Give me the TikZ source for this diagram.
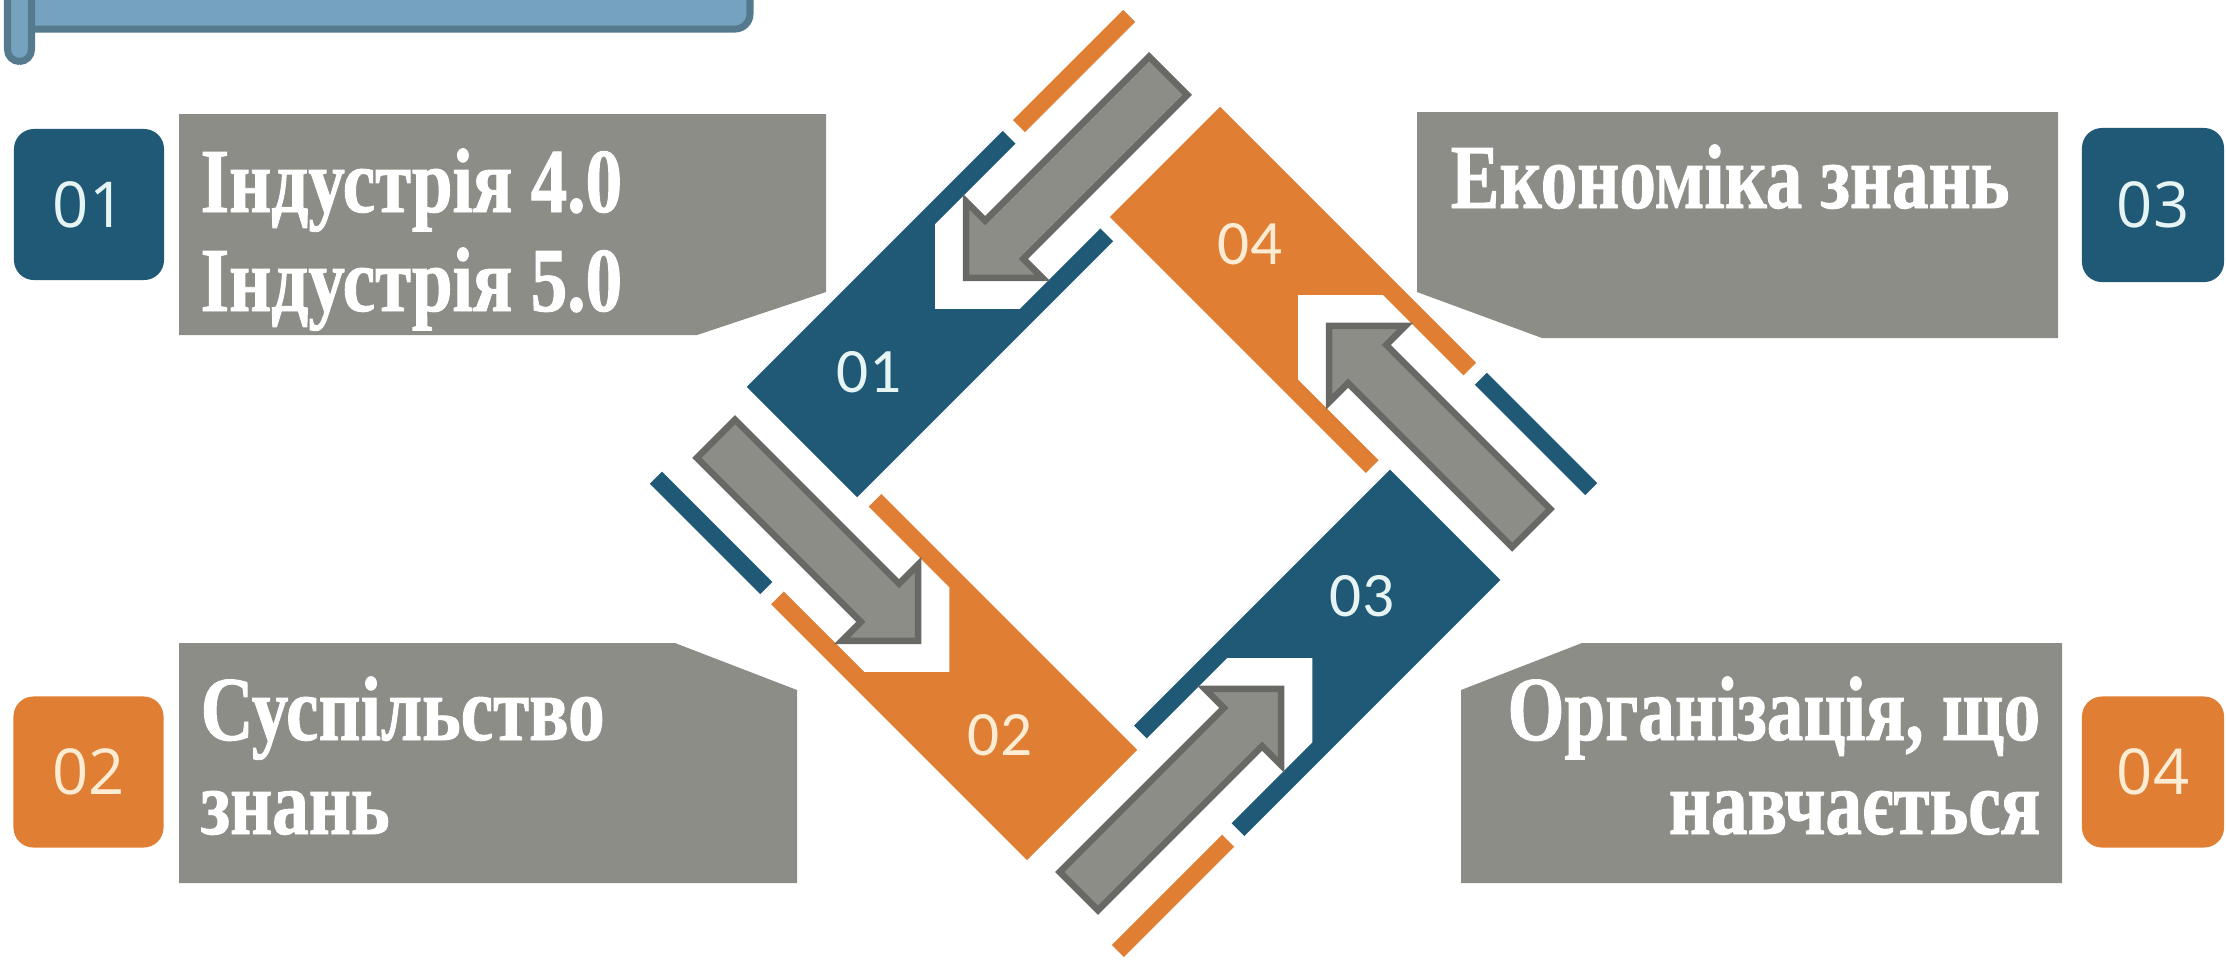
\documentclass[tikz,border=0pt]{standalone}
\usepackage{fontspec}
\setmainfont{Liberation Serif}
\newfontfamily\callfont{Liberation Serif}[FakeStretch=0.80, BoldFeatures={FakeBold=1}]
\newfontfamily\boxfont{Open Sans}
\newfontfamily\bandfont{Carlito}
\definecolor{cblue}{RGB}{31,89,117}
\definecolor{corange}{RGB}{224,127,52}
\definecolor{cgray}{RGB}{141,141,136}
\definecolor{cgrayline}{RGB}{104,105,100}
\definecolor{cbanner}{RGB}{117,163,191}
\definecolor{cbannerline}{RGB}{85,122,142}
\definecolor{ctxtb}{RGB}{230,244,244}
\definecolor{ctxto}{RGB}{252,236,212}
\tikzset{
  callout/.style={fill=cgray},
  calltext/.style={text=white, font=\callfont\fontsize{26}{30}\selectfont\bfseries, inner sep=0pt},
  numbox/.style={rounded corners=0.2cm, minimum width=1.5cm, minimum height=1.51cm, inner sep=0pt, font=\boxfont\fontsize{18}{20}\selectfont},
  bandlabel/.style={font=\bandfont\fontsize{18}{20}\selectfont, inner sep=0pt},
  garrow/.style={fill=cgray, draw=cgrayline, line width=1.85pt, line join=miter},
  bandframe/.style={shift={(c)}, rotate=#1, shift={(-321.6,-41.4)}, rotate=45},
}
\begin{document}
\begin{tikzpicture}[x=0.01cm,y=-0.01cm]
\useasboundingbox (0,0) rectangle (2226,959);
\begin{scope}
\clip (0,0) rectangle (2226,959);
% header banner
\draw[fill=cbanner, draw=cbannerline, line width=2pt, rounded corners=0.15cm] (20,-60) rectangle (750,29);
\draw[fill=cbanner, draw=cbannerline, line width=2pt, rounded corners=0.12cm] (7.5,-60) rectangle (31.5,61.5);
% callouts
\fill[callout] (179,114) -- (826,114) -- (826,292) -- (697,335) -- (179,335) -- cycle;
\fill[callout] (179,643) -- (675,643) -- (797,690) -- (797,883) -- (179,883) -- cycle;
\fill[callout] (1417,112) -- (2058,112) -- (2058,338) -- (1542,338) -- (1417,292) -- cycle;
\fill[callout] (1461,690) -- (1582,643) -- (2062,643) -- (2062,883) -- (1461,883) -- cycle;
\node[calltext, anchor=base west] (t1a) at (200,212) {Індустрія 4.0};
\node[calltext, anchor=base west] (t1b) at (200,311) {Індустрія 5.0};
\node[calltext, anchor=base west] (t3) at (1450,208) {Економіка знань};
\node[calltext, anchor=base west] (t2a) at (200,740) {Суспільство};
\node[calltext, anchor=base west] (t2b) at (200,834) {знань};
\node[calltext, anchor=base east] (t4a) at (2041,740) {Організація, що};
\node[calltext, anchor=base east] (t4b) at (2041,834) {навчається};
% number boxes
\node[numbox, fill=cblue, text=ctxtb] (n1) at (89,204.5) {01};
\node[numbox, fill=corange, text=ctxto] (n2) at (88.5,772) {02};
\node[numbox, fill=cblue, text=ctxtb, minimum width=1.42cm, minimum height=1.54cm] (n3) at (2153,205) {03};
\node[numbox, fill=corange, text=ctxto, minimum width=1.42cm] (n4) at (2153,772) {04};
% diamond
\coordinate (c) at (1123.6,483.4);
\foreach \r/\col in {0/cblue, 90/corange, 180/cblue, 270/corange} {
  \begin{scope}[bandframe=\r]
    \fill[\col] (-137,-78) rectangle (-120,78);
    \fill[\col] (0,-78) -- (362,-78) -- (362,-60) -- (248,-60) -- (188,0) -- (248,60) -- (362,60) -- (362,78) -- (0,78) -- cycle;
  \end{scope}
}
\foreach \r in {0,90,180,270} {
  \begin{scope}[bandframe=\r]
    \draw[garrow] (232,0) -- (286,-54) -- (286,-27) -- (518,-27) -- (518,27) -- (286,27) -- (286,54) -- cycle;
  \end{scope}
}
\node[bandlabel, text=ctxtb] (b1) at (869,372) {01};
\node[bandlabel, text=ctxto] (b2) at (1000,735) {02};
\node[bandlabel, text=ctxtb] (b3) at (1362,596) {03};
\node[bandlabel, text=ctxto] (b4) at (1250,244) {04};
\end{scope}
\end{tikzpicture}
\end{document}
